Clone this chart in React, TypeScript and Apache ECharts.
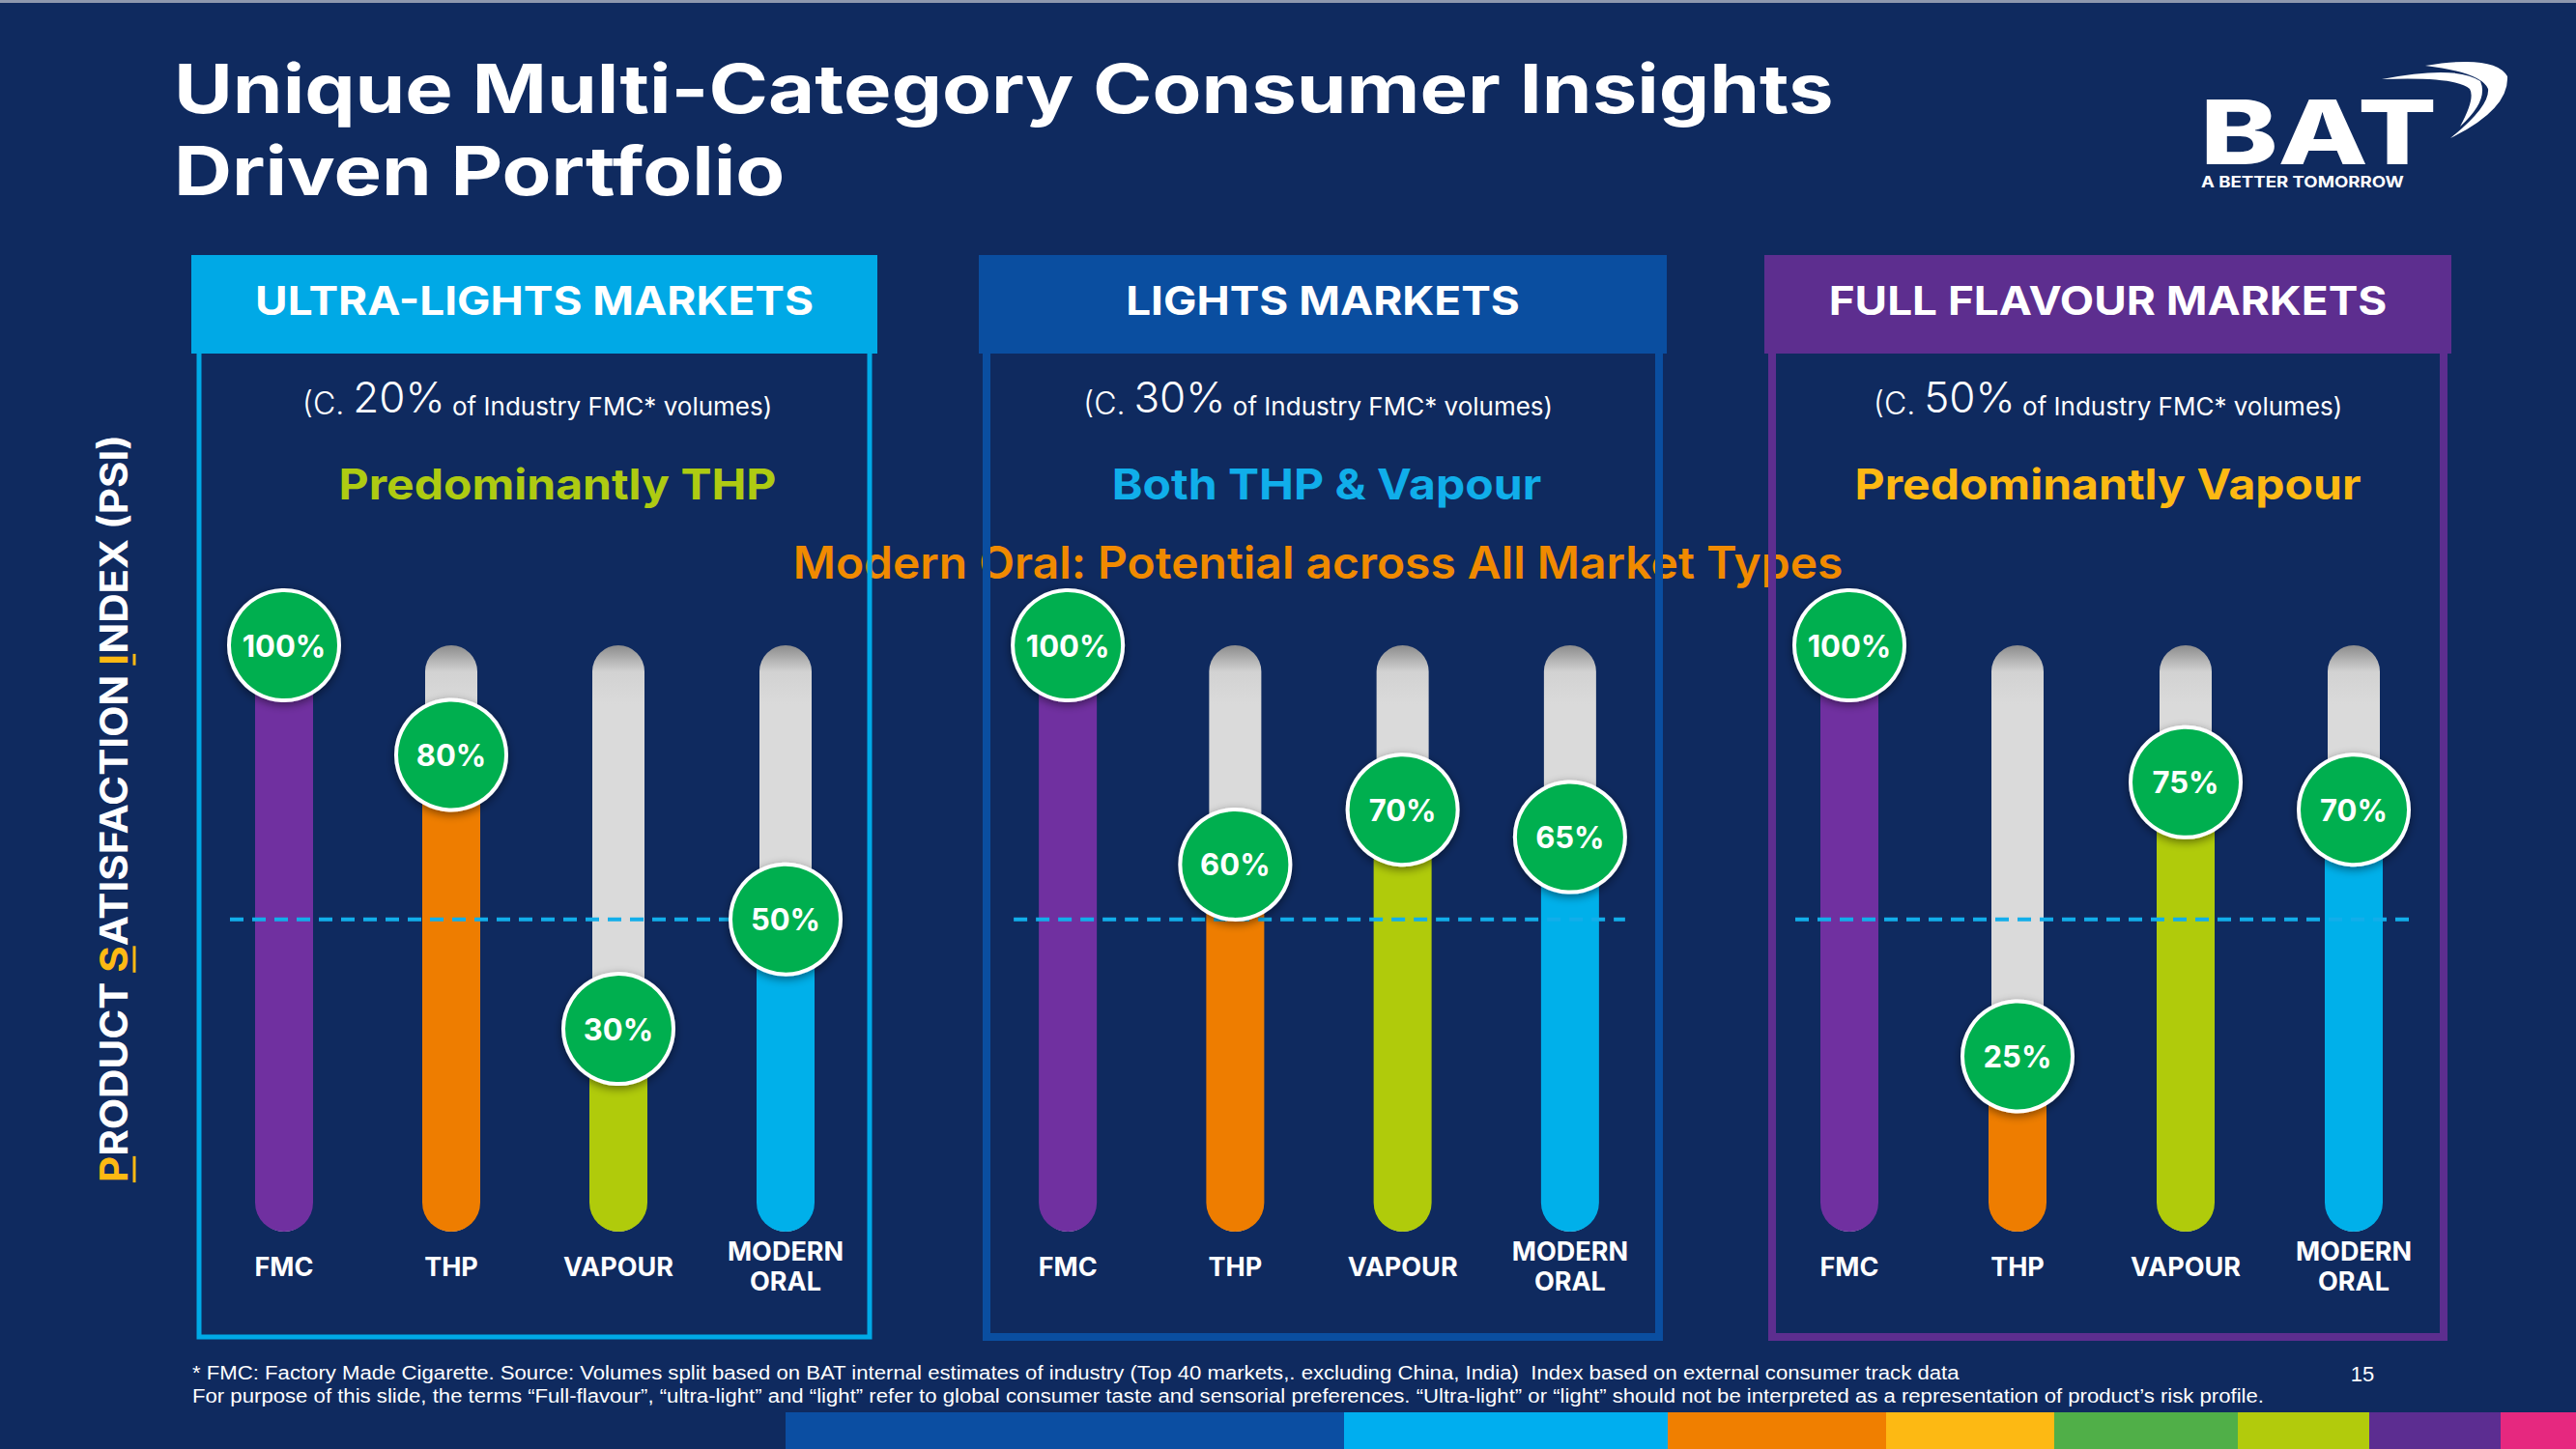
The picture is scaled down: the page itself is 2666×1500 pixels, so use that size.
import React, { useEffect, useRef } from 'react';
import * as echarts from 'echarts';

// ---------------- data ----------------
const CATEGORIES = ['FMC', 'THP', 'VAPOUR', 'MODERN\nORAL'];
const ULTRA_LIGHTS_PSI = [100, 80, 30, 50];
const LIGHTS_PSI = [100, 60, 70, 65];
const FULL_FLAVOUR_PSI = [100, 25, 75, 70];
const PANEL_TITLES = ['ULTRA-LIGHTS MARKETS', 'LIGHTS MARKETS', 'FULL FLAVOUR MARKETS'];
const VOLUME_SHARES = ['20%', '30%', '50%'];
const PORTFOLIO_FOCUS = ['Predominantly THP', 'Both THP & Vapour', 'Predominantly Vapour'];
const THRESHOLD = 50;
const SCALE_MIN = -7;
const SCALE_MAX = 100;
const TITLE_LINES = ['Unique Multi-Category Consumer Insights', 'Driven Portfolio'];
const CROSS_MARKET = 'Modern Oral: Potential across All Market Types';
const Y_LABEL_PARTS: [string, boolean][] = [
  ['P', true], ['RODUCT ', false], ['S', true], ['ATISFACTION ', false], ['I', true], ['NDEX (PSI)', false],
];
const FOOTNOTES = [
  '* FMC: Factory Made Cigarette. Source: Volumes split based on BAT internal estimates of industry (Top 40 markets,. excluding China, India)  Index based on external consumer track data',
  'For purpose of this slide, the terms \u201cFull-flavour\u201d, \u201cultra-light\u201d and \u201clight\u201d refer to global consumer taste and sensorial preferences. \u201cUltra-light\u201d or \u201clight\u201d should not be interpreted as a representation of product\u2019s risk profile.',
];
const PAGE_NUMBER = '15';

// ---------------- styles / layout ----------------
const W = 2666;
const H = 1500;
const BG = '#0F2A5F';
const FF = 'Inter, "Noto Sans", sans-serif';
const BAR_COLORS = ['#7030A0', '#EE7D00', '#B0CB0B', '#00B0EA'];
const PANEL_VALUES = [ULTRA_LIGHTS_PSI, LIGHTS_PSI, FULL_FLAVOUR_PSI];
const PANELS = [
  { x: 198, w: 710, color: '#00A9E6', frameW: 5, focus: '#AECB12', focusDx: 24, subDx: 3, gl: 207.5, gr: 899.5 },
  { x: 1013, w: 712, color: '#0A4EA0', frameW: 8, focus: '#10AEEA', focusDx: 4, subDx: -5, gl: 1018.5, gr: 1711.5 },
  { x: 1826, w: 711, color: '#5D2E8F', frameW: 8, focus: '#FDB913', focusDx: 0, subDx: 0, gl: 1827, gr: 2523 },
];
const STRIPE_EDGES = [813, 1391, 1726, 1952, 2126, 2316, 2452, 2588, 2666];
const STRIPE_COLORS = ['#0B4EA2', '#00AEEF', '#F07F00', '#FDB913', '#50AF48', '#B2CB0C', '#5C2D91', '#E6287F'];

const SWOOSH_A = 'M2510 68 Q2582 56 2595 79 Q2597 113 2536 143 Q2577 110 2575 92 Q2568 75 2510 68 Z';
const SWOOSH_B = 'M2465 82 Q2542 67 2567 84 Q2576 104 2546 131 Q2562 102 2556 92 Q2542 79 2465 82 Z';

function buildOption() {
  const ctx = document.createElement('canvas').getContext('2d')!;
  const mw = (t: string, weight: number | string, size: number, family = FF) => {
    ctx.font = `${weight} ${size}px ${family}`;
    return ctx.measureText(t).width;
  };

  const graphics: any[] = [];
  // top hairline
  graphics.push({ type: 'rect', shape: { x: 0, y: 0, width: W, height: 3 }, style: { fill: '#8E98AE' } });

  // title
  const titleScale = 1717 / mw(TITLE_LINES[0], 700, 70);
  graphics.push({
    type: 'group', x: 180, y: 0, scaleX: titleScale,
    children: TITLE_LINES.map((t, i) => ({
      type: 'text', x: 0, y: i === 0 ? 92 : 177,
      style: { text: t, fill: '#FFFFFF', fontFamily: FF, fontWeight: 700, fontSize: 70, align: 'left', verticalAlign: 'middle' },
    })),
  });

  // logo
  const batScale = 245 / mw('BAT', 800, 92);
  graphics.push({
    type: 'group', x: 2277, y: 137, scaleX: batScale,
    children: [{ type: 'text', x: 0, y: 0, style: { text: 'BAT', fill: '#FFFFFF', fontFamily: FF, fontWeight: 800, fontSize: 92, align: 'left', verticalAlign: 'middle' } }],
  });
  const tagScale = 210 / mw('A BETTER TOMORROW', 700, 16);
  graphics.push({
    type: 'group', x: 2278, y: 188, scaleX: tagScale,
    children: [{ type: 'text', x: 0, y: 0, style: { text: 'A BETTER TOMORROW', fill: '#FFFFFF', fontFamily: FF, fontWeight: 700, fontSize: 16, align: 'left', verticalAlign: 'middle' } }],
  });
  graphics.push({ type: 'bat-swoosh-a', x: 0, y: 0, style: { fill: '#FFFFFF' } });
  graphics.push({ type: 'bat-swoosh-b', x: 0, y: 0, style: { fill: '#FFFFFF' } });

  // cross-market statement (under the frames)
  const crossScale = 1087 / mw(CROSS_MARKET, 600, 46);
  graphics.push({
    type: 'group', x: 1364, y: 582, scaleX: crossScale,
    children: [{ type: 'text', x: 0, y: 0, style: { text: CROSS_MARKET, fill: '#F08A00', fontFamily: FF, fontWeight: 600, fontSize: 46, align: 'center', verticalAlign: 'middle' } }],
  });

  // panels
  const headScale = 578 / mw(PANEL_TITLES[0], 700, 41);
  const focusScale = 453 / mw(PORTFOLIO_FOCUS[0], 700, 44);
  PANELS.forEach((p, i) => {
    const cx = p.x + p.w / 2;
    graphics.push({
      type: 'rect',
      shape: { x: p.x + 8, y: 330, width: p.w - 16, height: 1384 - 330 },
      style: { fill: 'none', stroke: p.color, lineWidth: p.frameW },
    });
    graphics.push({ type: 'rect', shape: { x: p.x, y: 264, width: p.w, height: 102 }, style: { fill: p.color } });
    graphics.push({
      type: 'group', x: cx, y: 311, scaleX: headScale,
      children: [{ type: 'text', x: 0, y: 0, style: { text: PANEL_TITLES[i], fill: '#FFFFFF', fontFamily: FF, fontWeight: 700, fontSize: 41, align: 'center', verticalAlign: 'middle' } }],
    });
    graphics.push({
      type: 'text', x: cx + p.subDx, y: 410,
      style: {
        text: `{a|(C. }{b|${VOLUME_SHARES[i]}}{c| of Industry FMC* volumes)}`,
        fill: '#FFFFFF', fontFamily: FF, align: 'center', verticalAlign: 'middle',
        rich: {
          a: { fontFamily: FF, fontWeight: 300, fontSize: 32, lineHeight: 46, verticalAlign: 'bottom', fill: '#FFFFFF' },
          b: { fontFamily: FF, fontWeight: 300, fontSize: 44, lineHeight: 46, verticalAlign: 'bottom', fill: '#FFFFFF' },
          c: { fontFamily: FF, fontWeight: 400, fontSize: 26, lineHeight: 46, verticalAlign: 'bottom', fill: '#FFFFFF' },
        },
      },
    });
    graphics.push({
      type: 'group', x: cx + p.focusDx, y: 501, scaleX: focusScale,
      children: [{ type: 'text', x: 0, y: 0, style: { text: PORTFOLIO_FOCUS[i], fill: p.focus, fontFamily: FF, fontWeight: 700, fontSize: 44, align: 'center', verticalAlign: 'middle' } }],
    });
  });

  // rotated y-axis title with underlined initials
  const yFontSize = 40;
  const totalW = Y_LABEL_PARTS.reduce((s, [t]) => s + mw(t, 700, yFontSize), 0);
  const yScale = 774 / totalW;
  const yChildren: any[] = [];
  let cursor = -totalW / 2;
  Y_LABEL_PARTS.forEach(([t, hi]) => {
    const w = mw(t, 700, yFontSize);
    if (hi) {
      yChildren.push({ type: 'line', shape: { x1: cursor, y1: 22, x2: cursor + w, y2: 22 }, style: { stroke: '#FDB913', lineWidth: 3 } });
    }
    cursor += w;
  });
  yChildren.unshift({
    type: 'text', x: 0, y: 0,
    style: {
      text: Y_LABEL_PARTS.map(([t, hi]) => `{${hi ? 'h' : 'n'}|${t}}`).join(''),
      fontFamily: FF, fontWeight: 700, fontSize: yFontSize, align: 'center', verticalAlign: 'middle', fill: '#FFFFFF',
      rich: {
        h: { fontFamily: FF, fontWeight: 700, fontSize: yFontSize, fill: '#FDB913' },
        n: { fontFamily: FF, fontWeight: 700, fontSize: yFontSize, fill: '#FFFFFF' },
      },
    },
  });
  graphics.push({ type: 'group', x: 117, y: 837, rotation: Math.PI / 2, scaleX: yScale, children: yChildren });

  // footnotes
  const footFont = '"Liberation Sans", Arial, sans-serif';
  const footScale = 2144 / mw(FOOTNOTES[1], 400, 21, footFont);
  graphics.push({
    type: 'group', x: 199, y: 0, scaleX: footScale,
    children: FOOTNOTES.map((t, i) => ({
      type: 'text', x: 0, y: i === 0 ? 1421 : 1445,
      style: { text: t, fill: '#FFFFFF', fontFamily: footFont, fontSize: 21, align: 'left', verticalAlign: 'middle' },
    })),
  });
  graphics.push({
    type: 'text', x: 2445, y: 1422,
    style: { text: PAGE_NUMBER, fill: '#FFFFFF', fontFamily: footFont, fontSize: 22, align: 'center', verticalAlign: 'middle' },
  });

  // bottom colour stripe
  STRIPE_COLORS.forEach((c, i) => {
    graphics.push({
      type: 'rect',
      shape: { x: STRIPE_EDGES[i], y: 1462, width: STRIPE_EDGES[i + 1] - STRIPE_EDGES[i], height: 38 },
      style: { fill: c },
    });
  });

  const trackFill = new echarts.graphic.LinearGradient(0, 0, 0, 1, [
    { offset: 0, color: '#8C8C8C' },
    { offset: 0.045, color: '#D2D2D2' },
    { offset: 0.1, color: '#DADADA' },
    { offset: 1, color: '#DADADA' },
  ]);

  const renderItem = (params: any, api: any) => {
    const idx = api.value(0);
    const v = api.value(1);
    const [x, yVal] = api.coord([idx, v]);
    const yTop = api.coord([idx, SCALE_MAX])[1];
    const yBot = api.coord([idx, SCALE_MIN])[1];
    const tw = 54;
    const bw = 60;
    const children: any[] = [
      { type: 'rect', z2: 1, shape: { x: x - tw / 2, y: yTop, width: tw, height: yBot - yTop, r: tw / 2 }, style: { fill: trackFill } },
      { type: 'rect', z2: 2, shape: { x: x - bw / 2, y: yVal, width: bw, height: yBot - yVal, r: [0, 0, bw / 2, bw / 2] }, style: { fill: BAR_COLORS[idx] } },
      {
        type: 'circle', z2: 4, shape: { cx: x, cy: yVal, r: 57 },
        style: { fill: '#00AF50', stroke: '#FFFFFF', lineWidth: 4, shadowBlur: 10, shadowOffsetY: 3, shadowColor: 'rgba(0,0,0,0.45)' },
      },
      {
        type: 'text', z2: 5, x, y: yVal,
        style: { text: `${v}%`, fill: '#FFFFFF', fontFamily: FF, fontWeight: 700, fontSize: 31, align: 'center', verticalAlign: 'middle' },
      },
    ];
    if (idx === 0) {
      const last = api.coord([CATEGORIES.length - 1, THRESHOLD]);
      const first = api.coord([0, THRESHOLD]);
      children.push({
        type: 'line', z2: 3,
        shape: { x1: first[0] - 56, y1: first[1], x2: last[0] + 57, y2: last[1] },
        style: { stroke: '#12AEEA', lineWidth: 4, lineDash: [14, 9] },
      });
    }
    return { type: 'group', children };
  };

  return {
    backgroundColor: BG,
    animation: false,
    graphic: { elements: graphics },
    grid: PANELS.map((p) => ({ left: p.gl, right: W - p.gr, top: 668, bottom: H - 1275, containLabel: false })),
    xAxis: PANELS.map((_, i) => ({
      type: 'category', gridIndex: i, data: CATEGORIES,
      axisLine: { show: false, onZero: false }, axisTick: { show: false }, splitLine: { show: false },
      axisLabel: {
        interval: 0, color: '#FFFFFF', fontFamily: FF, fontWeight: 700, fontSize: 27, lineHeight: 31,
        margin: 36, verticalAlign: 'middle', align: 'center',
      },
    })),
    yAxis: PANELS.map((_, i) => ({ type: 'value', gridIndex: i, min: SCALE_MIN, max: SCALE_MAX, show: false })),
    series: PANELS.map((_, i) => ({
      type: 'custom', xAxisIndex: i, yAxisIndex: i, silent: true, clip: false,
      encode: { x: 0, y: 1 },
      data: PANEL_VALUES[i].map((v, j) => [j, v]),
      renderItem,
    })),
  };
}

export default function App() {
  const ref = useRef<HTMLDivElement>(null);
  useEffect(() => {
    echarts.graphic.registerShape('bat-swoosh-a', echarts.graphic.extendPath(SWOOSH_A, {}) as any);
    echarts.graphic.registerShape('bat-swoosh-b', echarts.graphic.extendPath(SWOOSH_B, {}) as any);
    const chart = echarts.init(ref.current!, null, { renderer: 'svg', width: W, height: H });
    chart.setOption(buildOption() as any);
    return () => chart.dispose();
  }, []);
  return <div ref={ref} style={{ position: 'fixed', left: 0, top: 0, width: W, height: H }} />;
}
